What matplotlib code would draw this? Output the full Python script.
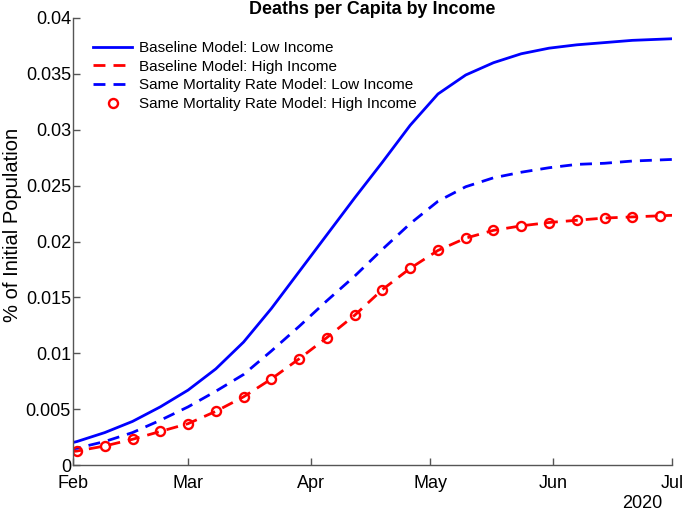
import numpy as np
import matplotlib
matplotlib.use("Agg")
import matplotlib.pyplot as plt

plt.rcParams['font.family'] = ['Liberation Sans', 'DejaVu Sans']

# Weekly dates (Sundays), first/last are clipped by the x-limits
dates = np.arange(np.datetime64('2020-01-26'), np.datetime64('2020-07-06'), np.timedelta64(7, 'D'))

baseline_low = [0.0015, 0.0021, 0.0029, 0.0039, 0.0052, 0.0067, 0.0086, 0.0110, 0.0140,
                0.0173, 0.0206, 0.0239, 0.0271, 0.0304, 0.0332, 0.0349, 0.0360, 0.0368,
                0.0373, 0.0376, 0.0378, 0.0380, 0.0381, 0.0382]
baseline_high = [0.0010, 0.00125, 0.0017, 0.0023, 0.0030, 0.0037, 0.0048, 0.0061, 0.0077,
                 0.0095, 0.0114, 0.0134, 0.0157, 0.0176, 0.0192, 0.0203, 0.0210, 0.0214,
                 0.0217, 0.0219, 0.0221, 0.0222, 0.0223, 0.0224]
same_low = [0.0011, 0.0015, 0.0021, 0.0029, 0.0040, 0.0052, 0.0066, 0.0081, 0.0102,
            0.0124, 0.0147, 0.0169, 0.0193, 0.0216, 0.0236, 0.0249, 0.0257, 0.0262,
            0.0266, 0.0269, 0.0270, 0.0272, 0.0273, 0.0274]
same_high = [0.0010, 0.00125, 0.0017, 0.0023, 0.0030, 0.0037, 0.0048, 0.0061, 0.0077,
             0.0095, 0.0114, 0.0134, 0.0157, 0.0176, 0.0192, 0.0203, 0.0210, 0.0214,
             0.0217, 0.0219, 0.0221, 0.0222, 0.0223, 0.0224]

month_ticks = np.array(['2020-02-01', '2020-03-01', '2020-04-01', '2020-05-01',
                        '2020-06-01', '2020-07-01'], dtype='datetime64[D]')
month_labels = ['Feb', 'Mar', 'Apr', 'May', 'Jun', 'Jul']
y_ticks = [0, 0.005, 0.01, 0.015, 0.02, 0.025, 0.03, 0.035, 0.04]
y_labels = ['0', '0.005', '0.01', '0.015', '0.02', '0.025', '0.03', '0.035', '0.04']

fig = plt.figure(figsize=(6.85, 5.13), dpi=100)
ax = fig.add_axes([73/685, 48/513, 599/685, 447/513])

dash = (0, (4.3, 2.9))
ax.plot(dates, baseline_low, color='#0000ff', lw=2, label='Baseline Model: Low Income')
ax.plot(dates, baseline_high, color='#ff0000', lw=2, linestyle=dash, label='Baseline Model: High Income')
ax.plot(dates, same_low, color='#0000ff', lw=2, linestyle=dash, label='Same Mortality Rate Model: Low Income')
ax.plot(dates, same_high, color='#ff0000', linestyle='none', marker='o', markersize=6.5,
        markerfacecolor='none', markeredgewidth=1.7, label='Same Mortality Rate Model: High Income')

ax.set_xlim(month_ticks[0], month_ticks[-1])
ax.set_ylim(0, 0.04)
ax.set_xticks(month_ticks)
ax.set_xticklabels(month_labels)
ax.set_yticks(y_ticks)
ax.set_yticklabels(y_labels)

for s in ['top', 'right']:
    ax.spines[s].set_visible(False)
for s in ['left', 'bottom']:
    ax.spines[s].set_color('#555555')
    ax.spines[s].set_linewidth(1.0)
ax.tick_params(direction='in', length=5, width=1.0, color='#555555', labelsize=13, labelcolor='black')
ax.tick_params(axis='y', pad=1.5)
ax.tick_params(axis='x', pad=7)

ax.set_ylabel('% of Initial Population', fontsize=14.5)
ax.yaxis.set_label_coords(-0.085, 0.537)
ax.set_title('Deaths per Capita by Income', fontsize=12.9, fontweight='bold', pad=1)
ax.text(0.95, -0.067, '2020', transform=ax.transAxes, ha='center', va='top', fontsize=13)

leg = ax.legend(loc='upper left', bbox_to_anchor=(0.033, 0.948), frameon=False, fontsize=11,
                handlelength=2.6, handletextpad=0.45, labelspacing=0.3,
                borderaxespad=0, borderpad=0)

fig.savefig('out.png', dpi=100)
